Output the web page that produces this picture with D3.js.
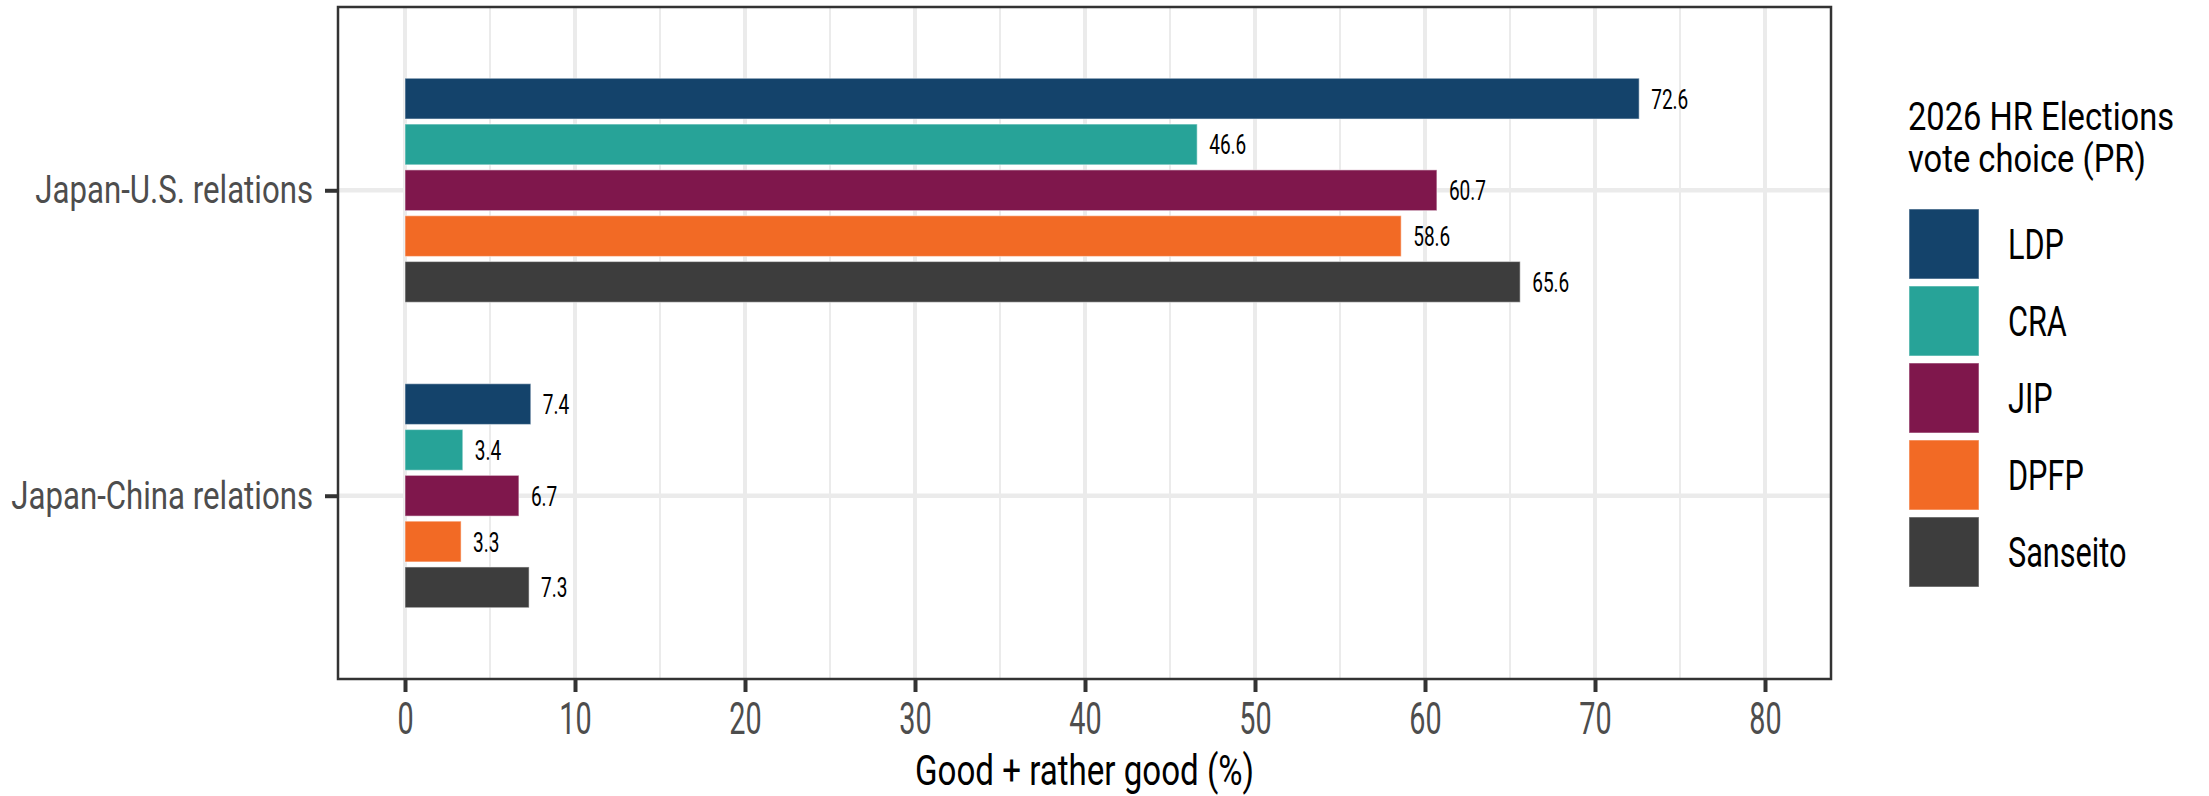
<!DOCTYPE html>
<html>
<head>
<meta charset="utf-8">
<script src="https://cdn.jsdelivr.net/npm/d3@7"></script>
<style>
  html, body { margin: 0; padding: 0; background: #fff; }
  svg { display: block; }
  text { font-family: Roboto, "Liberation Sans", sans-serif; }
</style>
</head>
<body>
<svg id="chart" width="2209" height="796"></svg>
<script>
// ---- data ----
const categories = ["Japan-U.S. relations", "Japan-China relations"];
const parties = ["LDP", "CRA", "JIP", "DPFP", "Sanseito"];
const usValues = [72.6, 46.6, 60.7, 58.6, 65.6];
const chinaValues = [7.4, 3.4, 6.7, 3.3, 7.3];
const partyColors = ["#14436b", "#27a398", "#7f174c", "#f26a25", "#3d3d3d"];
const xTicks = [0, 10, 20, 30, 40, 50, 60, 70, 80];
const xMinorTicks = [5, 15, 25, 35, 45, 55, 65, 75];
const xTitle = "Good + rather good (%)";
const legendTitle = ["2026 HR Elections", "vote choice (PR)"];

// ---- layout ----
const W = 2209, H = 796;
const panel = { left: 338, right: 1831, top: 7, bottom: 679 };
const svg = d3.select("#chart");

// horizontally condense text (mimics a narrow typeface) while keeping its anchor point
function squeeze(sel, k) {
  sel.each(function () {
    const t = d3.select(this);
    const tx = +t.attr("x") || 0, ty = +t.attr("y") || 0;
    t.attr("x", 0).attr("y", 0)
     .attr("transform", `translate(${tx},${ty}) scale(${k},1)`);
  });
}

const x = d3.scaleLinear().domain([0, 80]).range([405, 1765]);
const y = d3.scalePoint().domain(categories).range([panel.top, panel.bottom]).padding(0.6);
const step = y.step();
const yInner = d3.scaleBand().domain(parties)
  .range([-0.375 * step, 0.375 * step]).paddingInner(0.11).paddingOuter(0.055);
const color = d3.scaleOrdinal().domain(parties).range(partyColors);

const data = [];
categories.forEach((c, ci) => {
  const vals = ci === 0 ? usValues : chinaValues;
  parties.forEach((p, pi) => data.push({ cat: c, party: p, value: vals[pi] }));
});

// panel background grid
const grid = svg.append("g");
grid.selectAll("line.minor").data(xMinorTicks).join("line")
  .attr("x1", d => x(d)).attr("x2", d => x(d))
  .attr("y1", panel.top).attr("y2", panel.bottom)
  .attr("stroke", "#ebebeb").attr("stroke-width", 2);
grid.selectAll("line.major").data(xTicks).join("line")
  .attr("x1", d => x(d)).attr("x2", d => x(d))
  .attr("y1", panel.top).attr("y2", panel.bottom)
  .attr("stroke", "#ebebeb").attr("stroke-width", 4);
grid.selectAll("line.hmajor").data(categories).join("line")
  .attr("x1", panel.left).attr("x2", panel.right)
  .attr("y1", d => y(d)).attr("y2", d => y(d))
  .attr("stroke", "#ebebeb").attr("stroke-width", 4.5);

// bars
svg.append("g").selectAll("rect").data(data).join("rect")
  .attr("x", x(0))
  .attr("y", d => y(d.cat) + yInner(d.party))
  .attr("width", d => x(d.value) - x(0))
  .attr("height", yInner.bandwidth())
  .attr("fill", d => color(d.party))
  .attr("stroke", "rgba(255,255,255,0.45)")
  .attr("stroke-width", 1.2);

// value labels
const vl = svg.append("g").selectAll("text").data(data).join("text")
  .attr("x", d => x(d.value) + 12)
  .attr("y", d => y(d.cat) + yInner(d.party) + yInner.bandwidth() / 2 + 10)
  .attr("font-size", 28)
  .attr("fill", "#000")
  .text(d => d.value.toFixed(1));
squeeze(vl, 0.68);

// panel border
svg.append("rect")
  .attr("x", panel.left).attr("y", panel.top)
  .attr("width", panel.right - panel.left).attr("height", panel.bottom - panel.top)
  .attr("fill", "none").attr("stroke", "#333").attr("stroke-width", 2.5);

// x axis
const xAxis = svg.append("g").attr("transform", `translate(0,${panel.bottom})`)
  .call(d3.axisBottom(x).tickValues(xTicks).tickSize(13).tickPadding(10).tickFormat(d3.format("d")));
xAxis.select(".domain").remove();
xAxis.selectAll(".tick line").attr("stroke", "#333").attr("stroke-width", 4);
const xt = xAxis.selectAll(".tick text").attr("font-size", 45).attr("fill", "#4d4d4d")
  .attr("dy", "0.71em");
squeeze(xt, 0.64);

// y axis
const yAxis = svg.append("g").attr("transform", `translate(${panel.left},0)`)
  .call(d3.axisLeft(y).tickSize(13).tickPadding(12));
yAxis.select(".domain").remove();
yAxis.selectAll(".tick line").attr("stroke", "#333").attr("stroke-width", 4);
const yt = yAxis.selectAll(".tick text").attr("font-size", 39).attr("fill", "#4d4d4d");
squeeze(yt, 0.8);

// x title
const xtitle = svg.append("text")
  .attr("x", (panel.left + panel.right) / 2).attr("y", 785)
  .attr("text-anchor", "middle").attr("font-size", 43).attr("fill", "#000")
  .text(xTitle);
squeeze(xtitle, 0.77);

// legend
const leg = svg.append("g");
const lt = leg.selectAll("text.title").data(legendTitle).join("text")
  .attr("x", 1908).attr("y", (d, i) => 130 + i * 42)
  .attr("font-size", 38).attr("fill", "#000").text(d => d);
squeeze(lt, 0.86);
const keyTop = 209, keyStep = 77, keySize = 70;
leg.selectAll("rect").data(parties).join("rect")
  .attr("x", 1909).attr("y", (d, i) => keyTop + i * keyStep)
  .attr("width", keySize).attr("height", keySize)
  .attr("fill", d => color(d))
  .attr("stroke", "rgba(255,255,255,0.45)").attr("stroke-width", 1.2);
const ll = leg.selectAll("text.lab").data(parties).join("text")
  .attr("x", 2008).attr("y", (d, i) => keyTop + i * keyStep + keySize / 2 + 15)
  .attr("font-size", 42).attr("fill", "#000").text(d => d);
squeeze(ll, 0.73);
</script>
</body>
</html>
